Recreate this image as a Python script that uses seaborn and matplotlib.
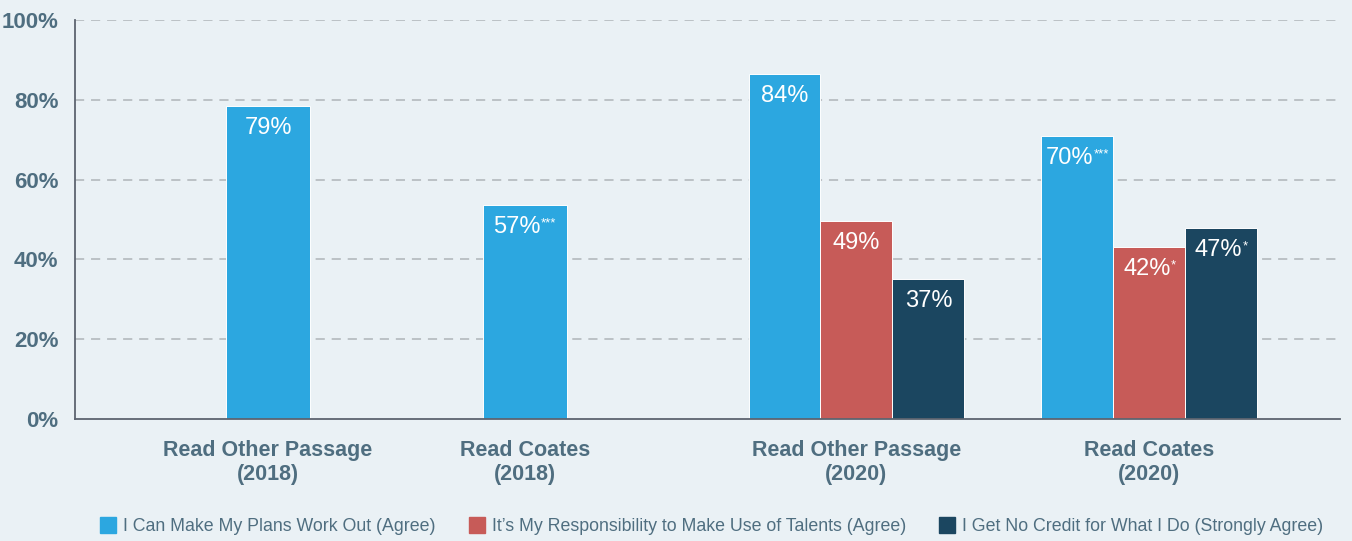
import matplotlib
matplotlib.use("Agg")
import matplotlib.pyplot as plt
import seaborn as sns
import pandas as pd
from matplotlib import font_manager
from matplotlib.lines import Line2D

# Datos del gráfico
groups = ["Read Other Passage\n(2018)", "Read Coates\n(2018)",
          "Read Other Passage\n(2020)", "Read Coates\n(2020)"]
eras = ["2018", "2018", "2020", "2020"]
series = ["I Can Make My Plans Work Out (Agree)",
          "It\u2019s My Responsibility to Make Use of Talents (Agree)",
          "I Get No Credit for What I Do (Strongly Agree)"]

# alturas (no coinciden del todo con las etiquetas)
plans = [78.4, 53.6, 86.5, 70.9]
responsibility = [None, None, 49.6, 43.1]
no_credit = [None, None, 35.1, 47.9]

plans_labels = ["79%", "57%", "84%", "70%"]
responsibility_labels = [None, None, "49%", "42%"]
no_credit_labels = [None, None, "37%", "47%"]

plans_sig = ["", "***", "", "***"]
responsibility_sig = ["", "", "", "*"]
no_credit_sig = ["", "", "", "*"]

colors = ["#2ca7e0", "#c75b58", "#1b4660"]
bg = "#eaf1f5"
text_color = "#4f6e80"

# posiciones de los grupos (separación irregular como en el original)
group_pos = [0, 1, 2.29, 3.43]
offsets = [-0.28, 0, 0.28]

names = {f.name for f in font_manager.fontManager.ttflist}
base_font = "Liberation Sans Narrow" if "Liberation Sans Narrow" in names else "Liberation Sans"

sns.set_theme(style="white", rc={"axes.facecolor": bg, "figure.facecolor": bg})
plt.rcParams["font.family"] = [base_font, "DejaVu Sans"]

rows = []
for i, (name, vals, labs, sigs) in enumerate(zip(
        series,
        [plans, responsibility, no_credit],
        [plans_labels, responsibility_labels, no_credit_labels],
        [plans_sig, responsibility_sig, no_credit_sig])):
    for g, (v, lab, sig) in enumerate(zip(vals, labs, sigs)):
        if v is None:
            continue
        x = group_pos[g] + (offsets[i] if eras[g] == "2020" else 0)
        rows.append({"series": name, "era": eras[g], "x": round(x, 3),
                     "value": v, "label": lab, "sig": sig})
df = pd.DataFrame(rows)

fig = plt.figure(figsize=(13.52, 5.41), dpi=100)
ax = fig.add_axes([0.0555, 0.2255, 0.9355, 0.7375])

palette = dict(zip(series, colors))
for era, width in [("2018", 0.327), ("2020", 1.0)]:
    sns.barplot(data=df[df["era"] == era], x="x", y="value", hue="series",
                hue_order=series, palette=palette, native_scale=True,
                dodge=False, width=width, errorbar=None, saturation=1,
                legend=False, edgecolor="white", linewidth=0.7, ax=ax)

# etiquetas dentro de las barras
for _, r in df.iterrows():
    shift = -1.9 * len(r["sig"])
    t = ax.annotate(r["label"], (r["x"], r["value"]), xytext=(shift, -8),
                    textcoords="offset points", ha="center", va="top",
                    color="white", fontsize=17)
    if r["sig"]:
        ax.annotate(r["sig"], xy=(1.0, 0.95), xycoords=t, ha="left", va="top",
                    color="white", fontsize=9.5)

ax.set_xlim(-0.751, 4.171)
ax.set_ylim(0, 100)
ax.set_xticks(group_pos)
ax.set_xticklabels(groups, fontsize=15.5, fontweight="bold", color=text_color,
                   linespacing=1.2)
ax.set_yticks(range(0, 101, 20))
ax.set_yticklabels([f"{v}%" for v in range(0, 101, 20)], fontsize=16,
                   fontweight="bold", color=text_color)
ax.tick_params(axis="both", length=0)
ax.tick_params(axis="x", pad=15)
ax.tick_params(axis="y", pad=12)
ax.set_xlabel("")
ax.set_ylabel("")

for y in range(20, 101, 20):
    ax.axhline(y, color="#aeb4b8", lw=1.1, ls=(0, (6, 4.5)), zorder=0)

for side in ["top", "right"]:
    ax.spines[side].set_visible(False)
for side in ["left", "bottom"]:
    ax.spines[side].set_color("#5d6470")
    ax.spines[side].set_linewidth(1.3)

handles = [Line2D([0], [0], marker="s", ls="", markersize=11,
                  markerfacecolor=c, markeredgecolor=c) for c in colors]
fig.legend(handles, series, loc="center", bbox_to_anchor=(0.526, 0.027),
           ncol=3, frameon=False, fontsize=12.8, handletextpad=0.35,
           columnspacing=1.8, labelcolor=text_color, handlelength=1.0)

fig.savefig("out.png", dpi=100, facecolor=bg)
